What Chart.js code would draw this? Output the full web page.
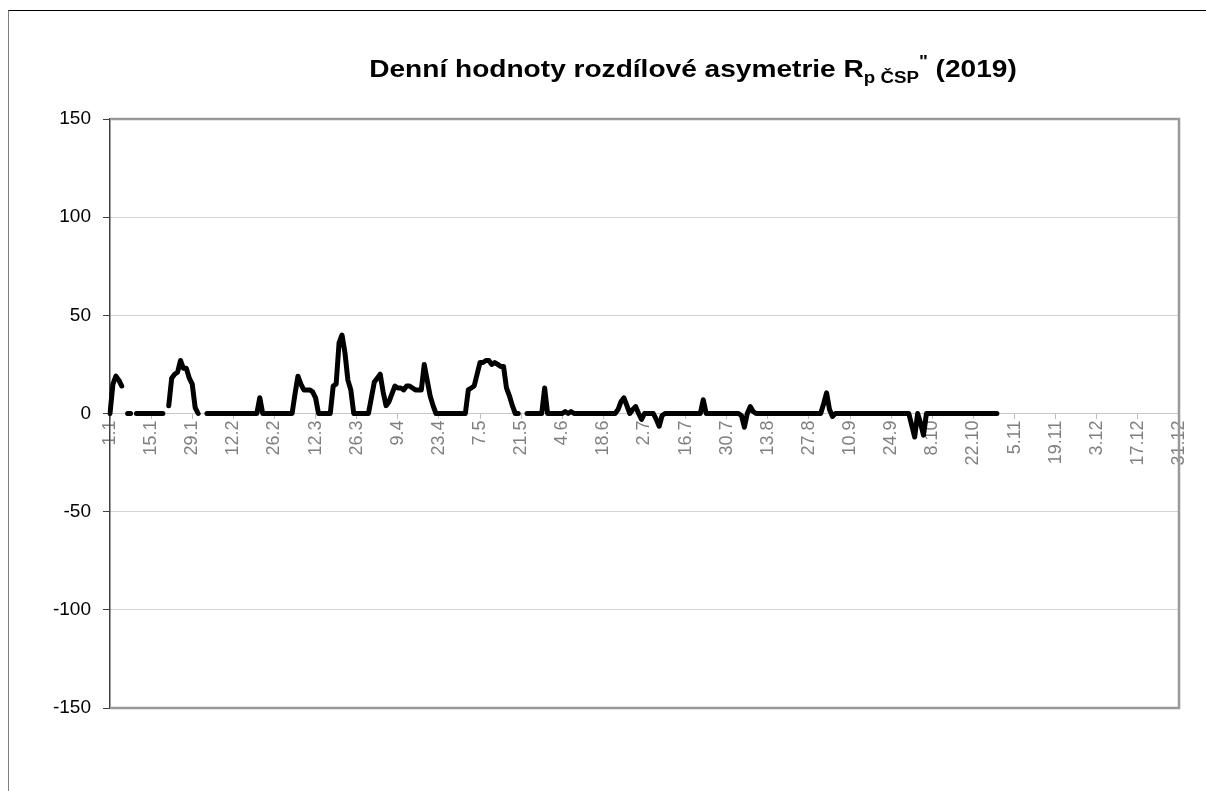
<!DOCTYPE html>
<html>
<head>
<meta charset="utf-8">
<script src="https://cdn.jsdelivr.net/npm/chart.js@4.4.1/dist/chart.umd.min.js"></script>
<style>
  body { margin: 0; background: #fff; }
  #wrap { position: relative; width: 1206px; height: 791px; overflow: hidden; }
  #frame { position: absolute; left: 8px; top: 10px; width: 1400px; height: 1000px;
           border-top: 1px solid #000; border-left: 1px solid #808080; }
  canvas { position: absolute; left: 0; top: 0; }
</style>
</head>
<body>
<div id="wrap">
  <div id="frame"></div>
  <canvas id="myChart" width="1206" height="791"></canvas>
</div>
<script>
// dny roku 2019 (1.1 .. 31.12)
const dayLabels = [];
for (let i = 0; i < 365; i++) {
  const d = new Date(Date.UTC(2019, 0, 1 + i));
  dayLabels.push(d.getUTCDate() + "." + (d.getUTCMonth() + 1));
}
const labelStep = 14; // popisek kazdy 14. den

// denni hodnoty R_p CSP (data jen do konce rijna)
const dailyValues = [
  0, 15, 19, 17, 14, null, 0, 0, null, 0, 0, 0, 0, 0, 0, 0, 0, 0, 0, null,
  4, 18, 20, 21, 27, 23, 23, 18, 15, 3, 0, null, null, 0, 0, 0, 0, 0, 0, 0,
  0, 0, 0, 0, 0, 0, 0, 0, 0, 0, 0, 8, 0, 0, 0, 0, 0, 0, 0, 0,
  0, 0, 0, 10, 19, 15, 12, 12, 12, 11, 8, 0, 0, 0, 0, 0, 14, 15, 36, 40,
  31, 17, 12, 0, 0, 0, 0, 0, 0, 8, 16, 18, 20, 11, 4, 6, 10, 14, 13, 13,
  12, 14, 14, 13, 12, 12, 12, 25, 17, 9, 4, 0, 0, 0, 0, 0, 0, 0, 0, 0,
  0, 0, 12, 13, 14, 20, 26, 26, 27, 27, 25, 26, 25, 24, 24, 13, 9, 4, 0, 0,
  null, null, 0, 0, 0, 0, 0, 0, 13, 0, 0, 0, 0, 0, 0, 1, 0, 1, 0, 0,
  0, 0, 0, 0, 0, 0, 0, 0, 0, 0, 0, 0, 0, 2, 6, 8, 4, 0, 2, 3.5,
  0, -3, 0, 0, 0, 0, -3, -6.5, -1, 0, 0, 0, 0, 0, 0, 0, 0, 0, 0, 0,
  0, 0, 7, 0, 0, 0, 0, 0, 0, 0, 0, 0, 0, 0, 0, -1, -7, 0, 3.5, 1,
  0, 0, 0, 0, 0, 0, 0, 0, 0, 0, 0, 0, 0, 0, 0, 0, 0, 0, 0, 0,
  0, 0, 0, 5, 10.5, 2, -1.5, 0, 0, 0, 0, 0, 0, 0, 0, 0, 0, 0, 0, 0,
  0, 0, 0, 0, 0, 0, 0, 0, 0, 0, 0, 0, 0, -6, -12, 0, -5, -11, 0, 0,
  0, 0, 0, 0, 0, 0, 0, 0, 0, 0, 0, 0, 0, 0, 0, 0, 0, 0, 0, 0,
  0, 0, 0
];

const yMin = -150;
const yMax = 150;
const yStep = 50;

const fontFamily = "'Liberation Sans', Arial, sans-serif";

// ramecek plochy grafu (horni, prava, dolni strana)
const plotFrame = {
  id: "plotFrame",
  beforeDatasetsDraw(chart) {
    const { ctx, chartArea: a } = chart;
    ctx.save();
    ctx.strokeStyle = "#999999";
    ctx.lineWidth = 2.5;
    ctx.beginPath();
    ctx.moveTo(a.left, a.top);
    ctx.lineTo(a.right, a.top);
    ctx.lineTo(a.right, a.bottom);
    ctx.lineTo(a.left, a.bottom);
    ctx.stroke();
    ctx.restore();
  },
};

// nadpis s dolnim a hornim indexem
const titleParts = [
  { text: "Denní hodnoty rozdílové asymetrie R", size: 24, shift: 0 },
  { text: "p ČSP", size: 16, shift: 6 },
  { text: "\"", size: 16, shift: -10 },
  { text: " (2019)", size: 24, shift: 0 },
];
const titleStretch = 1.17; // puvodni pismo je trochu sirsi
const richTitle = {
  id: "richTitle",
  afterDraw(chart) {
    const ctx = chart.ctx;
    ctx.save();
    ctx.fillStyle = "#000";
    ctx.textBaseline = "alphabetic";
    let total = 0;
    titleParts.forEach((p) => {
      ctx.font = "bold " + p.size + "px " + fontFamily;
      p.w = ctx.measureText(p.text).width;
      total += p.w;
    });
    const cx = 693;
    ctx.translate(cx, 77);
    ctx.scale(titleStretch, 1);
    let x = -total / 2;
    titleParts.forEach((p) => {
      ctx.font = "bold " + p.size + "px " + fontFamily;
      ctx.fillText(p.text, x, p.shift);
      x += p.w;
    });
    ctx.restore();
  },
};

const ctx = document.getElementById("myChart").getContext("2d");
const myChart = new Chart(ctx, {
  type: "line",
  data: {
    labels: dayLabels,
    datasets: [
      {
        label: "Rp ČSP",
        data: dailyValues,
        borderColor: "#000",
        borderWidth: 5,
        pointRadius: 0,
        tension: 0,
        spanGaps: false,
        borderCapStyle: "round",
        borderJoinStyle: "round",
      },
    ],
  },
  options: {
    responsive: false,
    animation: false,
    layout: { padding: { top: 119, right: 27, bottom: 83, left: 0 } },
    plugins: {
      legend: { display: false },
      tooltip: { enabled: false },
      title: { display: false },
    },
    scales: {
      x: {
        position: { y: 0 },
        offset: false,
        ticks: {
          autoSkip: false,
          minRotation: 90,
          maxRotation: 90,
          color: "#808080",
          padding: 2,
          font: { family: fontFamily, size: 18 },
          callback: function (value, index) {
            return index % labelStep === 0 ? this.getLabelForValue(value) : "";
          },
        },
        grid: {
          drawOnChartArea: false,
          tickLength: 5,
          tickColor: (c) => (c.index % labelStep === 0 ? "#bdbdbd" : "rgba(0,0,0,0)"),
        },
        border: { color: "#c8c8c8", width: 1 },
      },
      y: {
        min: yMin,
        max: yMax,
        ticks: {
          stepSize: yStep,
          color: "#000",
          padding: 12,
          font: { family: fontFamily, size: 19 },
        },
        grid: { color: "#d4d4d4", tickColor: "#404040", tickLength: 7 },
        border: { color: "#404040", width: 1.5 },
        afterFit: function (scale) {
          scale.width = 110;
        },
      },
    },
  },
  plugins: [plotFrame, richTitle],
});
</script>
</body>
</html>
